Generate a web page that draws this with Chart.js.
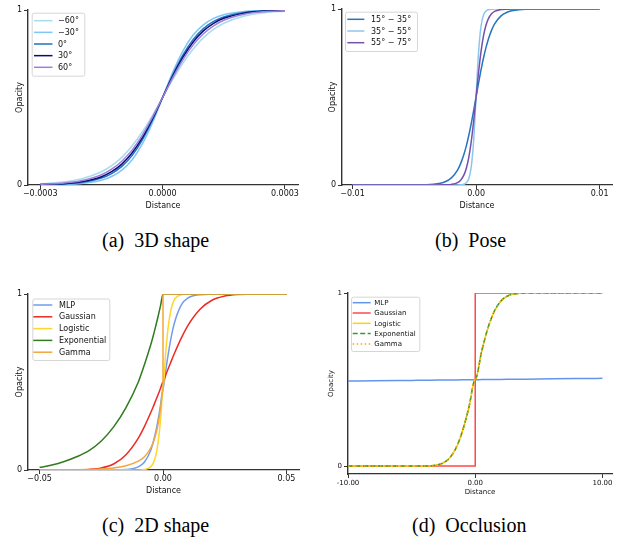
<!DOCTYPE html>
<html>
<head>
<meta charset="utf-8">
<script src="https://cdn.jsdelivr.net/npm/chart.js@4.4.1/dist/chart.umd.min.js"></script>
<style>
  html, body { margin: 0; padding: 0; background: #fff; }
  #page { position: relative; width: 633px; height: 539px; overflow: hidden; }
  canvas { position: absolute; }
  .cap { position: absolute; font-family: 'Liberation Serif', 'Times New Roman', serif; font-size: 20px; line-height: 20px; color: #000; white-space: pre; }
</style>
</head>
<body>
<div id="page">
  <canvas id="shape3d" width="316" height="222" style="left:0px;top:0px"></canvas>
  <canvas id="pose" width="317" height="222" style="left:316px;top:0px"></canvas>
  <canvas id="shape2d" width="316" height="232" style="left:0px;top:270px"></canvas>
  <canvas id="occlusion" width="317" height="232" style="left:316px;top:270px"></canvas>
  <div class="cap" style="left:102px;top:230px">(a)  3D shape</div>
  <div class="cap" style="left:435px;top:230px">(b)  Pose</div>
  <div class="cap" style="left:102px;top:515px">(c)  2D shape</div>
  <div class="cap" style="left:412px;top:515px">(d)  Occlusion</div>
</div>
<script>
// (a) 3D shape
const shapeDistance = [-0.0003, -0.00025, -0.0002, -0.00015, -0.000125, -0.0001, -0.000075, -0.00005, -0.000025, 0,
    0.000025, 0.00005, 0.000075, 0.0001, 0.000125, 0.00015, 0.0002, 0.00025, 0.0003];
const shapeMinus60 = [0.0067, 0.0152, 0.0345, 0.0759, 0.111, 0.158, 0.2227, 0.303, 0.397, 0.5, 0.603, 0.697, 0.777, 0.842, 0.889, 0.924, 0.9655, 0.9848, 0.9933];
const shapeMinus30 = [0.0008, 0.0026, 0.0085, 0.0274, 0.0484, 0.0848, 0.143, 0.233, 0.355, 0.5, 0.645, 0.767, 0.857, 0.915, 0.952, 0.973, 0.9915, 0.9974, 0.9992];
const shape0 = [0.0017, 0.0049, 0.0139, 0.0396, 0.0653, 0.1062, 0.168, 0.2566, 0.37, 0.5, 0.63, 0.7434, 0.832, 0.8938, 0.9347, 0.9604, 0.9861, 0.9951, 0.9983];
const shape30 = [0.0025, 0.0067, 0.018, 0.0474, 0.0759, 0.1192, 0.1824, 0.2689, 0.3775, 0.5, 0.6225, 0.7311, 0.8176, 0.8808, 0.9241, 0.9526, 0.982, 0.9933, 0.9975];
const shape60 = [0.0038, 0.0097, 0.0241, 0.0584, 0.0903, 0.1359, 0.1994, 0.2837, 0.3863, 0.5, 0.6137, 0.7163, 0.8006, 0.8641, 0.9097, 0.9416, 0.9759, 0.9903, 0.9962];
const shapeLabels = ['\u221260\u00b0', '\u221230\u00b0', '0\u00b0', '30\u00b0', '60\u00b0'];
const shapeTicks = [-0.0003, 0, 0.0003];
const shapeTickLabels = ['\u22120.0003', '0.0000', '0.0003'];

// (b) Pose
const poseDistance = [-0.01, -0.006, -0.004, -0.003, -0.0025, -0.002, -0.0015, -0.00125, -0.001, -0.0008, -0.0006, -0.0004, -0.0002, 0,
    0.0002, 0.0004, 0.0006, 0.0008, 0.001, 0.00125, 0.0015, 0.002, 0.0025, 0.003, 0.004, 0.006, 0.01];
const pose15to35 = [0, 0.0001, 0.0018, 0.0085, 0.0185, 0.0403, 0.0848, 0.1213, 0.1699, 0.2192, 0.2785, 0.3464, 0.4214, 0.5,
    0.5786, 0.6536, 0.7215, 0.7808, 0.8301, 0.8787, 0.9152, 0.9597, 0.9815, 0.9915, 0.9983, 0.9999, 1];
const pose35to55 = [0, 0, 0, 0, 0, 0, 0.0002, 0.001, 0.0038, 0.0116, 0.0345, 0.098, 0.2479, 0.5,
    0.7521, 0.902, 0.9655, 0.9884, 0.9962, 0.999, 0.9998, 1, 1, 1, 1, 1, 1];
const pose55to75 = [0, 0, 0, 0.0002, 0.0008, 0.0033, 0.0135, 0.0274, 0.0543, 0.0923, 0.1526, 0.2418, 0.361, 0.5,
    0.639, 0.7582, 0.8474, 0.9077, 0.9457, 0.9726, 0.9865, 0.9967, 0.9992, 0.9998, 1, 1, 1];
const poseLabels = ['15\u00b0 \u2212 35\u00b0', '35\u00b0 \u2212 55\u00b0', '55\u00b0 \u2212 75\u00b0'];
const poseTicks = [-0.01, 0, 0.01];
const poseTickLabels = ['\u22120.01', '0.00', '0.01'];

// (c) 2D shape  (0 appears twice: Gamma jumps to 1 there)
const contourDistance = [-0.05, -0.045, -0.04, -0.035, -0.03, -0.025, -0.02, -0.015, -0.01, -0.0075, -0.005, -0.004, -0.003, -0.002, -0.001, 0,
    0, 0.001, 0.002, 0.003, 0.004, 0.005, 0.0075, 0.01, 0.015, 0.02, 0.025, 0.03, 0.04, 0.05];
const contourMLP = [0, 0, 0, 0, 0, 0.0001, 0.0004, 0.0027, 0.018, 0.0457, 0.111, 0.156, 0.213, 0.284, 0.369, 0.462,
    0.462, 0.557, 0.649, 0.731, 0.8, 0.854, 0.939, 0.976, 0.9963, 0.9994, 1, 1, 1, 1];
const contourGaussian = [0, 0, 0.0001, 0.0007, 0.0032, 0.0116, 0.034, 0.087, 0.181, 0.248, 0.325, 0.358, 0.393, 0.428, 0.464, 0.5,
    0.5, 0.536, 0.572, 0.607, 0.642, 0.675, 0.752, 0.819, 0.913, 0.966, 0.9884, 0.9968, 0.9999, 1];
const contourLogistic = [0, 0, 0, 0, 0, 0, 0, 0, 0.0004, 0.0027, 0.018, 0.038, 0.0787, 0.156, 0.284, 0.46,
    0.46, 0.649, 0.8, 0.896, 0.949, 0.976, 0.9963, 0.9995, 1, 1, 1, 1, 1, 1];
const contourExponential = [0.015, 0.028, 0.048, 0.075, 0.11, 0.165, 0.245, 0.355, 0.5, 0.6, 0.71, 0.76, 0.815, 0.872, 0.934, 1,
    1, 1, 1, 1, 1, 1, 1, 1, 1, 1, 1, 1, 1, 1];
const contourGamma = [0, 0, 0, 0.001, 0.003, 0.006, 0.012, 0.024, 0.05, 0.075, 0.125, 0.155, 0.2, 0.26, 0.35, 0.45,
    1, 1, 1, 1, 1, 1, 1, 1, 1, 1, 1, 1, 1, 1];
const methodLabels = ['MLP', 'Gaussian', 'Logistic', 'Exponential', 'Gamma'];
const contourTicks = [-0.05, 0, 0.05];
const contourTickLabels = ['\u22120.05', '0.00', '0.05'];

// (d) Occlusion  (0 appears twice: Gaussian is a step there)
const occlusionDistance = [-10, -8, -6, -5, -4, -3.5, -3, -2.5, -2, -1.5, -1, -0.5, 0,
    0, 0.5, 1, 1.5, 2, 2.5, 3, 3.5, 4, 5, 6, 8, 10];
const occlusionMLP = [0.491, 0.4926, 0.4942, 0.495, 0.4958, 0.4962, 0.4966, 0.497, 0.4974, 0.4978, 0.4982, 0.4986, 0.499,
    0.499, 0.4994, 0.4998, 0.5002, 0.5006, 0.501, 0.5014, 0.5018, 0.5022, 0.503, 0.5038, 0.5054, 0.507];
const occlusionGaussian = [0, 0, 0, 0, 0, 0, 0, 0, 0, 0, 0, 0, 0,
    1, 1, 1, 1, 1, 1, 1, 1, 1, 1, 1, 1, 1];
// Logistic, Exponential and Gamma lie on top of each other
const occlusionFitted = [0, 0, 0, 0, 0.0004, 0.0018, 0.0062, 0.0188, 0.0478, 0.1056, 0.2023, 0.3385, 0.5,
    0.5, 0.6615, 0.7977, 0.8944, 0.9522, 0.9812, 0.9938, 0.9982, 0.9996, 1, 1, 1, 1];
const occlusionTicks = [-10, 0, 10];
const occlusionTickLabels = ['-10.00', '0.00', '10.00'];

Chart.defaults.font.family = "'DejaVu Sans', sans-serif";
Chart.defaults.color = '#111';

// matplotlib-like legend box in the upper left corner
const boxLegend = {
    id: 'boxLegend',
    afterDatasetsDraw(chart, args, o) {
        const {ctx, chartArea} = chart;
        const x0 = chartArea.left, y0 = chartArea.top;
        ctx.save();
        ctx.beginPath();
        ctx.roundRect(x0 + o.x + 0.5, y0 + o.y + 0.5, o.w, o.h, 2);
        ctx.fillStyle = 'rgba(255,255,255,0.8)';
        ctx.fill();
        ctx.lineWidth = 0.8;
        ctx.strokeStyle = '#cccccc';
        ctx.stroke();
        ctx.font = o.font + "px 'DejaVu Sans'";
        ctx.textBaseline = 'middle';
        chart.data.datasets.forEach((ds, i) => {
            const cy = y0 + o.first + i * o.row;
            ctx.beginPath();
            ctx.setLineDash(ds.borderDash || []);
            ctx.strokeStyle = ds.borderColor;
            ctx.lineWidth = ds.borderWidth;
            ctx.moveTo(x0 + o.lineFrom, cy);
            ctx.lineTo(x0 + o.lineTo, cy);
            ctx.stroke();
            ctx.setLineDash([]);
            ctx.fillStyle = '#111';
            ctx.fillText(ds.label, x0 + o.text, cy + 0.5);
        });
        ctx.restore();
    }
};

const renderPanel = (id, p) => {
    var ctx = document.getElementById(id).getContext('2d');
    var canvas = ctx.canvas;
    var n = p.series.length;
    return new Chart(ctx, {
        type: 'line',
        data: {
            datasets: p.series.map((s, i) => ({
                label: s.label,
                data: p.x.map((x, k) => ({x: x, y: s.y[k]})),
                borderColor: s.color,
                borderWidth: s.width || 1.5,
                borderDash: s.dash || [],
                cubicInterpolationMode: s.straight ? 'default' : 'monotone',
                tension: 0,
                pointRadius: 0,
                fill: false,
                order: n - i
            }))
        },
        options: {
            responsive: false,
            animation: false,
            devicePixelRatio: 1,
            layout: {
                padding: {left: 0, top: p.area.top, right: canvas.width - p.area.right, bottom: 0}
            },
            plugins: {
                legend: {display: false},
                tooltip: {enabled: false},
                boxLegend: p.legend
            },
            scales: {
                x: {
                    type: 'linear',
                    min: p.xMin,
                    max: p.xMax,
                    afterBuildTicks: (scale) => { scale.ticks = p.ticks.map(v => ({value: v})); },
                    afterFit: (scale) => { scale.height = canvas.height - p.area.bottom; },
                    ticks: {
                        callback: (v) => p.tickLabels[p.ticks.indexOf(v)],
                        autoSkip: false,
                        maxRotation: 0,
                        padding: p.xPad,
                        font: {size: p.font}
                    },
                    grid: {drawOnChartArea: false, tickLength: 4, color: '#333'},
                    border: {color: '#333', width: 1.2},
                    title: {display: true, text: 'Distance', font: {size: p.font}, padding: {top: 0, bottom: p.xTitlePad}}
                },
                y: {
                    type: 'linear',
                    min: p.yMin,
                    max: 1,
                    afterBuildTicks: (scale) => { scale.ticks = [{value: 0}, {value: 1}]; },
                    afterFit: (scale) => { scale.width = p.area.left; },
                    ticks: {
                        callback: (v) => String(v),
                        padding: 2,
                        font: {size: p.font}
                    },
                    grid: {drawOnChartArea: false, tickLength: 4, color: '#333'},
                    border: {color: '#333', width: 1.4},
                    title: {display: true, text: 'Opacity', font: {size: p.font}, padding: {top: p.yTitlePad, bottom: 0}}
                }
            }
        },
        plugins: [boxLegend]
    });
};

renderPanel('shape3d', {
    area: {left: 28, top: 10, right: 298, bottom: 185},
    x: shapeDistance, xMin: -0.00033, xMax: 0.000332, yMin: 0,
    ticks: shapeTicks, tickLabels: shapeTickLabels,
    font: 8, xPad: 0, xTitlePad: 11.2, yTitlePad: 15.2,
    series: [
        {label: shapeLabels[0], y: shapeMinus60, color: '#a9dcee'},
        {label: shapeLabels[1], y: shapeMinus30, color: '#7fc5f6'},
        {label: shapeLabels[2], y: shape0, color: '#2272bd'},
        {label: shapeLabels[3], y: shape30, color: '#0c0c78'},
        {label: shapeLabels[4], y: shape60, color: '#9d80d8'}
    ],
    legend: {x: 3.7, y: 2.7, w: 52.6, h: 63, lineFrom: 6, lineTo: 24.5, text: 30, first: 10.7, row: 11.65, font: 8}
});

renderPanel('pose', {
    area: {left: 26, top: 9, right: 296, bottom: 185},
    x: poseDistance, xMin: -0.01085, xMax: 0.011, yMin: 0,
    ticks: poseTicks, tickLabels: poseTickLabels,
    font: 8, xPad: 0, xTitlePad: 11.2, yTitlePad: 11.9,
    series: [
        {label: poseLabels[0], y: pose15to35, color: '#2675bd'},
        {label: poseLabels[1], y: pose35to55, color: '#8cc6ee'},
        {label: poseLabels[2], y: pose55to75, color: '#7450ad'}
    ],
    legend: {x: 3, y: 2.7, w: 72, h: 39.3, lineFrom: 5.3, lineTo: 22.3, text: 29, first: 10.3, row: 11.7, font: 8}
});

renderPanel('shape2d', {
    area: {left: 28, top: 24, right: 299, bottom: 200},
    x: contourDistance, xMin: -0.0547, xMax: 0.0551, yMin: 0,
    ticks: contourTicks, tickLabels: contourTickLabels,
    font: 8, xPad: 0, xTitlePad: 6.2, yTitlePad: 15.2,
    series: [
        {label: methodLabels[0], y: contourMLP, color: '#6f9ded'},
        {label: methodLabels[1], y: contourGaussian, color: '#ec2a24'},
        {label: methodLabels[2], y: contourLogistic, color: '#ffd52e'},
        {label: methodLabels[3], y: contourExponential, color: '#2f7b1e'},
        {label: methodLabels[4], y: contourGamma, color: '#f5a53c'}
    ],
    legend: {x: 4.3, y: 4.5, w: 77, h: 61.5, lineFrom: 5.3, lineTo: 24.3, text: 31, first: 11, row: 11.8, font: 8}
});

renderPanel('occlusion', {
    area: {left: 32, top: 23, right: 296, bottom: 204},
    x: occlusionDistance, xMin: -10, xMax: 10.75, yMin: -0.046,
    ticks: occlusionTicks, tickLabels: occlusionTickLabels,
    font: 7, xPad: 0.5, xTitlePad: 5.8, yTitlePad: 10.8,
    series: [
        {label: methodLabels[0], y: occlusionMLP, color: '#6495ed'},
        {label: methodLabels[1], y: occlusionGaussian, color: 'rgba(255,40,40,0.85)', straight: true},
        {label: methodLabels[2], y: occlusionFitted, color: '#ffd700'},
        {label: methodLabels[3], y: occlusionFitted, color: '#3a9a32', dash: [5, 2.5]},
        {label: methodLabels[4], y: occlusionFitted, color: '#ffa500', dash: [1.5, 2.5]}
    ],
    legend: {x: 3, y: 3.7, w: 68.3, h: 54.3, lineFrom: 4.7, lineTo: 22.7, text: 26.3, first: 9.7, row: 10.3, font: 7}
});
</script>
</body>
</html>
